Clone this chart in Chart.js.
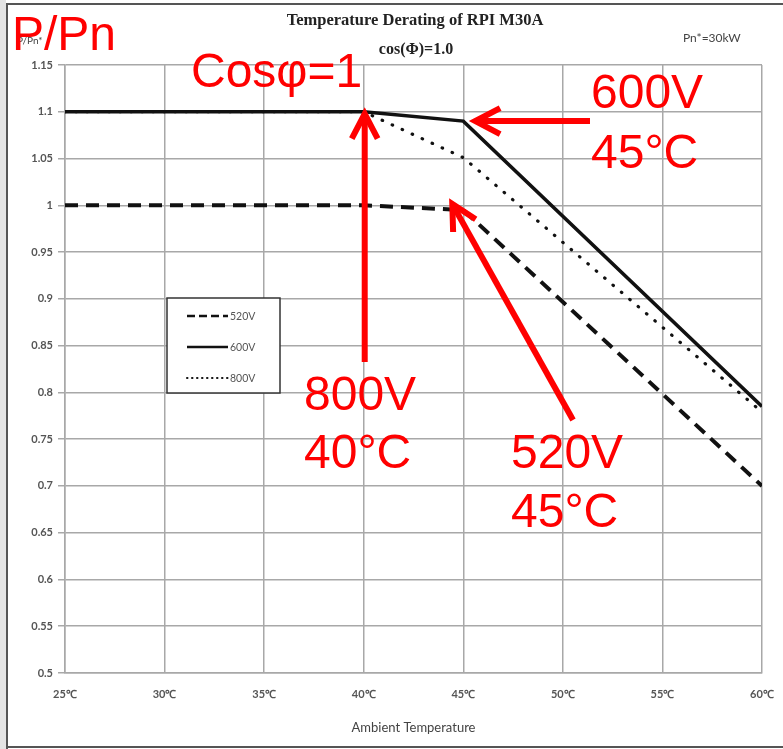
<!DOCTYPE html>
<html lang="en">
<head>
<meta charset="UTF-8">
<title>Temperature Derating of RPI M30A</title>
<script src="https://cdn.jsdelivr.net/npm/chart.js"></script>
<style>
  html, body { margin: 0; padding: 0; background: #fff; }
  canvas { display: block; }
</style>
</head>
<body>
<canvas id="grafica" width="783" height="749"></canvas>
<script>
// datos
const temps520 = [25, 40, 45, 60];
const vals520 = [1.0, 1.0, 0.995, 0.7];
const temps600 = [25, 40, 45, 60];
const vals600 = [1.1, 1.1, 1.09, 0.785];
const temps800 = [25, 40, 45, 60];
const vals800 = [1.1, 1.1, 1.051, 0.779];
const seriesNames = ['520V', '600V', '800V'];
const xTicks = [25, 30, 35, 40, 45, 50, 55, 60];

const pts = (xs, ys) => xs.map((x, i) => ({ x: x, y: ys[i] }));
const tickFont = { family: 'Lato, "Open Sans", sans-serif', size: 11, weight: 'bold' };
const RED = '#ff0000';

function arrow(ctx, x1, y1, x2, y2) {
  // flecha de (x1,y1) a la punta (x2,y2)
  const ang = Math.atan2(y2 - y1, x2 - x1);
  const len = 28, spread = 0.48;
  ctx.save();
  ctx.strokeStyle = RED;
  ctx.lineWidth = 6;
  ctx.lineCap = 'butt';
  ctx.lineJoin = 'miter';
  ctx.beginPath();
  ctx.moveTo(x1, y1);
  ctx.lineTo(x2 - Math.cos(ang) * 3, y2 - Math.sin(ang) * 3);
  ctx.stroke();
  ctx.beginPath();
  ctx.moveTo(x2 - len * Math.cos(ang - spread), y2 - len * Math.sin(ang - spread));
  ctx.lineTo(x2, y2);
  ctx.lineTo(x2 - len * Math.cos(ang + spread), y2 - len * Math.sin(ang + spread));
  ctx.stroke();
  ctx.restore();
}

const decoraciones = {
  id: 'decoraciones',
  beforeDraw(chart) {
    const ctx = chart.ctx;
    ctx.save();
    ctx.fillStyle = '#e4e4e4';
    ctx.fillRect(0, 0, 6, chart.height);
    ctx.strokeStyle = '#555';
    ctx.lineWidth = 2;
    ctx.beginPath();
    ctx.moveTo(7, chart.height);
    ctx.lineTo(7, 4);
    ctx.lineTo(chart.width, 4);
    ctx.moveTo(7, 747);
    ctx.lineTo(chart.width, 747);
    ctx.stroke();
    ctx.restore();
  },
  afterDraw(chart) {
    const ctx = chart.ctx;
    const xs = chart.scales.x, ys = chart.scales.y;
    ctx.save();

    // titulos
    ctx.fillStyle = '#222';
    ctx.textAlign = 'center';
    ctx.textBaseline = 'alphabetic';
    ctx.font = 'bold 16.5px "Liberation Serif", serif';
    ctx.fillText('Temperature Derating of RPI M30A', 415, 25);
    ctx.font = 'bold 16px "Liberation Serif", serif';
    ctx.fillText('cos(\u03A6)=1.0', 416, 54);
    ctx.fillStyle = '#444';
    ctx.font = '12px Lato, sans-serif';
    ctx.textAlign = 'left';
    ctx.fillText('Pn*=30kW', 683, 42);
    ctx.font = '10px Lato, sans-serif';
    ctx.fillText('P/Pn*', 17, 44);

    // leyenda
    const lx = 167, ly = 298, lw = 113, lh = 95;
    ctx.fillStyle = '#fff';
    ctx.fillRect(lx, ly, lw, lh);
    ctx.strokeStyle = '#333';
    ctx.lineWidth = 1.5;
    ctx.strokeRect(lx, ly, lw, lh);
    const rowsY = [316, 347, 378];
    chart.data.datasets.forEach((ds, i) => {
      ctx.save();
      ctx.strokeStyle = ds.borderColor;
      ctx.lineWidth = i === 2 ? 2 : 2.5;
      ctx.lineCap = i === 2 ? 'round' : 'butt';
      ctx.setLineDash(i === 0 ? [8, 4] : i === 2 ? [0.5, 4.5] : []);
      ctx.beginPath();
      ctx.moveTo(187, rowsY[i]);
      ctx.lineTo(228, rowsY[i]);
      ctx.stroke();
      ctx.restore();
      ctx.fillStyle = '#555';
      ctx.font = '10.5px Lato, sans-serif';
      ctx.textAlign = 'left';
      ctx.textBaseline = 'middle';
      ctx.fillText(ds.label, 230, rowsY[i] + 1);
    });

    // anotaciones en rojo
    ctx.fillStyle = RED;
    ctx.textAlign = 'left';
    ctx.textBaseline = 'alphabetic';
    ctx.font = '48px "Liberation Sans", Arial, sans-serif';
    ctx.fillText('P/Pn', 12, 50);
    ctx.fillText('Cos\u03C6=1', 191, 87);
    ctx.fillText('600V', 591, 108);
    ctx.fillText('45\u00B0C', 591, 168);
    ctx.fillText('800V', 304, 410);
    ctx.fillText('40\u00B0C', 304, 468);
    ctx.fillText('520V', 511, 468);
    ctx.fillText('45\u00B0C', 511, 527);

    const x40 = xs.getPixelForValue(40), x45 = xs.getPixelForValue(45);
    arrow(ctx, 590, ys.getPixelForValue(1.09), x45 + 12, ys.getPixelForValue(1.09));
    arrow(ctx, x40 + 1, 362, x40 + 1, ys.getPixelForValue(1.1) + 2);
    arrow(ctx, 573, 420, x45 - 11, ys.getPixelForValue(0.995) - 6);
    ctx.restore();
  }
};

const ctx = document.getElementById('grafica').getContext('2d');
new Chart(ctx, {
  type: 'line',
  data: {
    datasets: [
      {
        label: seriesNames[0],
        data: pts(temps520, vals520),
        borderColor: '#111',
        borderWidth: 4,
        borderDash: [13, 8],
        pointRadius: 0,
        tension: 0
      },
      {
        label: seriesNames[1],
        data: pts(temps600, vals600),
        borderColor: '#111',
        borderWidth: 3.5,
        pointRadius: 0,
        tension: 0
      },
      {
        label: seriesNames[2],
        data: pts(temps800, vals800),
        borderColor: '#111',
        borderWidth: 3.2,
        borderDash: [0.5, 10.5],
        borderCapStyle: 'round',
        pointRadius: 0,
        tension: 0
      }
    ]
  },
  options: {
    responsive: false,
    animation: false,
    devicePixelRatio: 1,
    layout: { padding: { left: 0, right: 21, top: 65, bottom: 0 } },
    plugins: {
      legend: { display: false },
      tooltip: { enabled: false },
      title: { display: false }
    },
    scales: {
      x: {
        type: 'linear',
        min: 25,
        max: 60,
        afterFit: (s) => { s.height = 76; s.paddingRight = 0; s.paddingLeft = 0; },
        afterBuildTicks: (s) => { s.ticks = xTicks.map(v => ({ value: v })); },
        ticks: {
          padding: 15,
          color: '#555',
          font: tickFont,
          maxRotation: 0,
          callback: (v) => v + '\u2103'
        },
        grid: { color: '#a8a8a8', lineWidth: 1.5, drawTicks: false },
        border: { color: '#a8a8a8', width: 1.5 },
        title: {
          display: true,
          text: 'Ambient Temperature',
          color: '#444',
          font: { family: 'Lato, "Open Sans", sans-serif', size: 13 },
          padding: { top: 0, bottom: 13 }
        }
      },
      y: {
        min: 0.5,
        max: 1.15,
        afterFit: (s) => { s.width = 65; },
        ticks: {
          stepSize: 0.05,
          padding: 5,
          color: '#555',
          font: tickFont,
          callback: (v) => String(+v.toFixed(2))
        },
        grid: { color: '#a8a8a8', lineWidth: 1.5, tickLength: 7 },
        border: { color: '#a8a8a8', width: 1.5 }
      }
    }
  },
  plugins: [decoraciones]
});
</script>
</body>
</html>
